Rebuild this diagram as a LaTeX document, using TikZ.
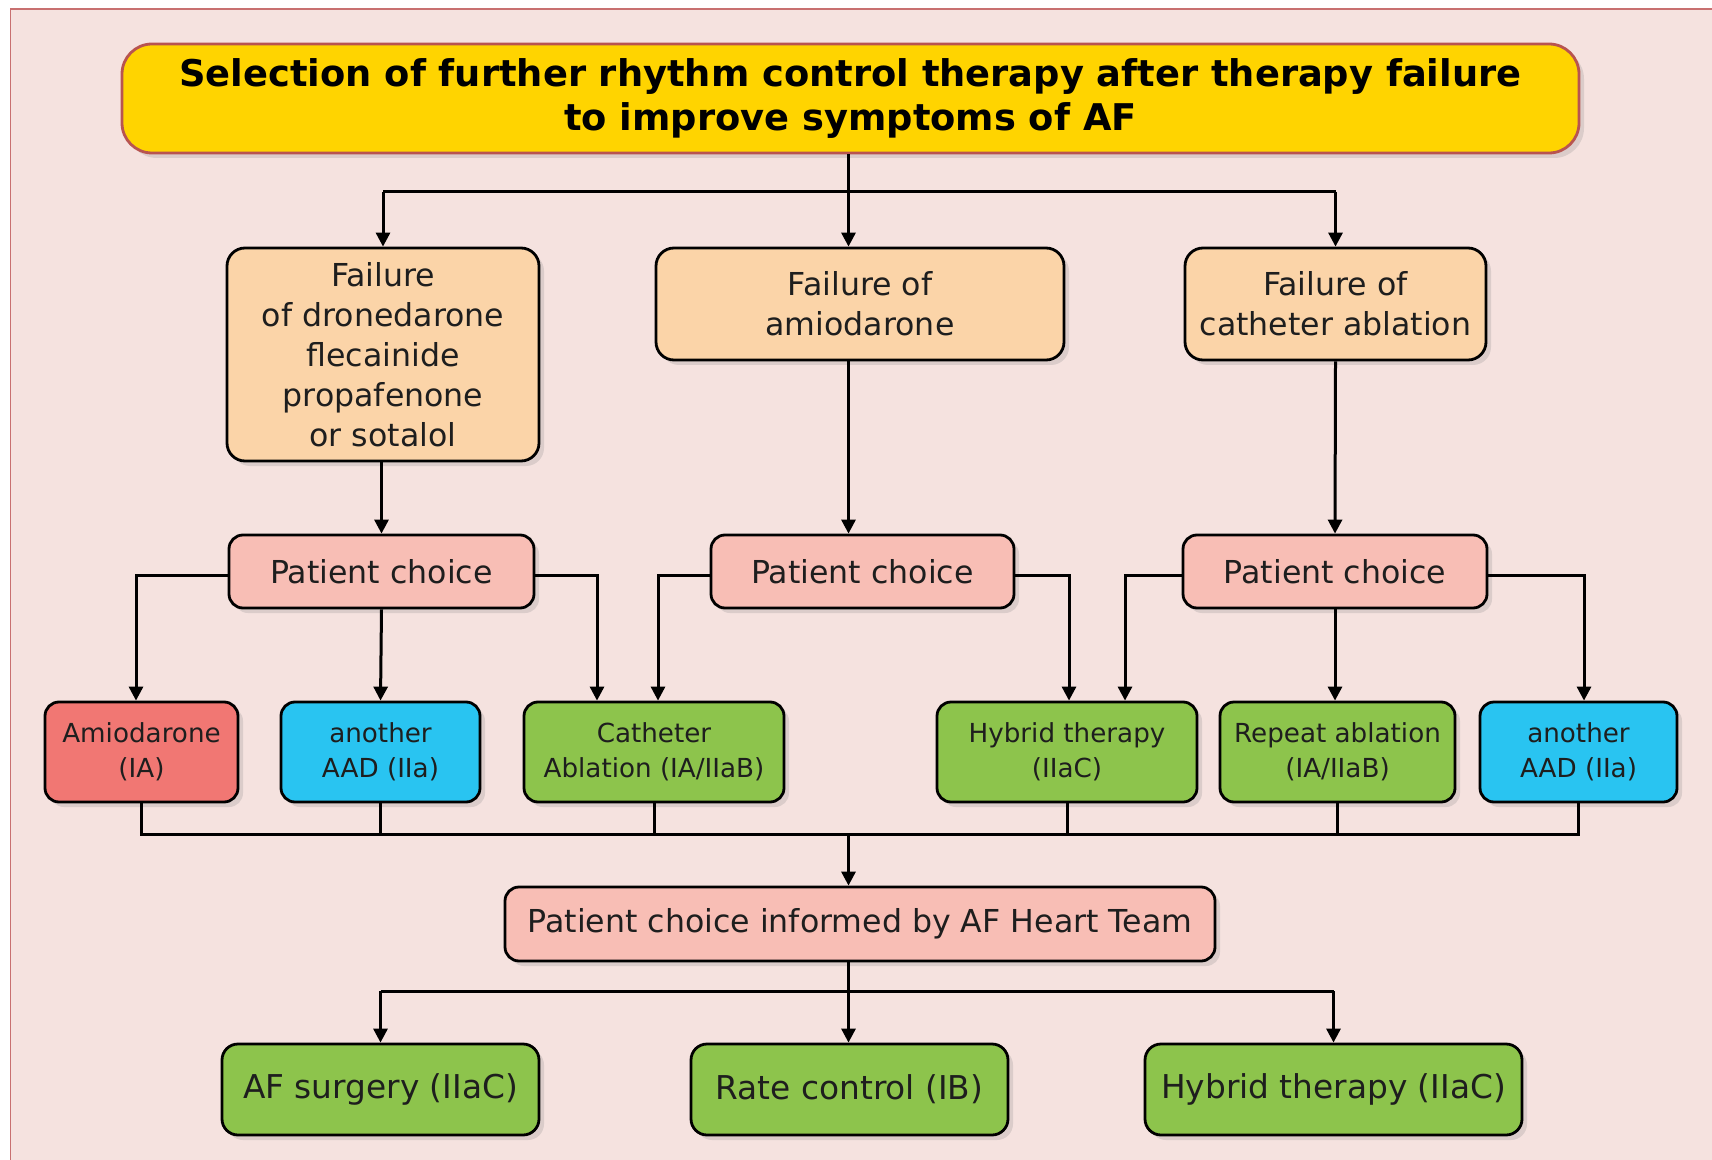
\documentclass[tikz,border=0pt]{standalone}
\usepackage{fontspec}
\setmainfont{DejaVu Sans}
\usetikzlibrary{arrows.meta,shadows}
\definecolor{bgpink}{HTML}{F5E2DF}
\definecolor{framecol}{HTML}{C87070}
\definecolor{titlefill}{HTML}{FFD400}
\definecolor{titledraw}{HTML}{B85450}
\definecolor{peach}{HTML}{FBD4A8}
\definecolor{salmon}{HTML}{F8BEB5}
\definecolor{redbox}{HTML}{F17773}
\definecolor{cyanbox}{HTML}{29C4F1}
\definecolor{greenbox}{HTML}{8DC44C}
\definecolor{txt}{HTML}{1E1E1E}
\begin{document}
\begin{tikzpicture}[x=0.5pt,y=-0.5pt,
  sz/.style 2 args={minimum width=#1*0.5pt, minimum height=#2*0.5pt},
  box/.style={draw=black, line width=1.4pt, rounded corners=9pt, align=center, inner sep=0pt, text=txt,
    drop shadow={opacity=0.22, shadow xshift=2.5pt, shadow yshift=-2.5pt}},
  titlebox/.style={box, draw=titledraw, fill=titlefill, rounded corners=15pt, text=black,
    font=\fontsize{18.4}{22}\selectfont\bfseries},
  failbox/.style={box, fill=peach, font=\fontsize{15.8}{20}\selectfont},
  choicebox/.style={box, fill=salmon, rounded corners=7pt, font=\fontsize{15.8}{20}\selectfont},
  optbox/.style={box, rounded corners=7pt, font=\fontsize{13.1}{17.5}\selectfont},
  endbox/.style={box, fill=greenbox, rounded corners=8pt, font=\fontsize{16.4}{20}\selectfont},
  conn/.style={draw=black, line width=1.5pt},
  arr/.style={conn, -{Triangle[length=7pt,width=7pt]}}
]
\useasboundingbox (0,0) rectangle (1712,1160);
\fill[white] (0,0) rectangle (1712,1160);
\fill[bgpink] (10.5,9) rectangle (1730,1180);
\draw[framecol, line width=0.8pt] (10.5,1180) -- (10.5,9) -- (1730,9);

% title
\node[titlebox, sz={1457}{109}] (title) at (850.5,98.5)
  {\raisebox{-1.5pt}{\parbox{700pt}{\centering Selection of further rhythm control therapy after therapy failure\\to improve symptoms of AF}}};

% failure boxes
\node[failbox, sz={312}{213}] (f1) at (383,354.5)
  {Failure\\of dronedarone\\flecainide\\propafenone\\or sotalol};
\node[failbox, sz={408}{112}] (f2) at (860,304) {Failure of\\amiodarone};
\node[failbox, sz={301}{112}] (f3) at (1335.5,304) {Failure of\\catheter ablation};

% patient choice
\node[choicebox, sz={305}{73}] (pc1) at (381.5,571.5) {Patient choice};
\node[choicebox, sz={303}{73}] (pc2) at (862.5,571.5) {Patient choice};
\node[choicebox, sz={304}{73}] (pc3) at (1335,571.5) {Patient choice};

% options
\node[optbox, fill=redbox, sz={193}{100}] (am) at (141.5,752) {Amiodarone\\(IA)};
\node[optbox, fill=cyanbox, sz={199}{100}] (aad1) at (380.5,752) {another\\AAD (IIa)};
\node[optbox, fill=greenbox, sz={260}{100}] (cath) at (654,752) {Catheter\\Ablation (IA/IIaB)};
\node[optbox, fill=greenbox, sz={260}{100}] (hyb) at (1067,752) {Hybrid therapy\\(IIaC)};
\node[optbox, fill=greenbox, sz={235}{100}] (rep) at (1337.5,752) {Repeat ablation\\(IA/IIaB)};
\node[optbox, fill=cyanbox, sz={197}{100}] (aad2) at (1578.5,752) {another\\AAD (IIa)};

% heart team
\node[choicebox, sz={710}{74}] (team) at (860,924) {Patient choice informed by AF Heart Team};

% end boxes
\node[endbox, sz={317}{91}] (afs) at (380.5,1089.5) {AF surgery (IIaC)};
\node[endbox, sz={317}{91}] (rate) at (849.5,1089.5) {Rate control (IB)};
\node[endbox, sz={377}{91}] (hyb2) at (1333.5,1089.5) {Hybrid therapy (IIaC)};

% helper coordinates
\coordinate (cx) at (848.5,0);
\coordinate (bus1) at (0,192);
\coordinate (bus2) at (0,834);
\coordinate (bus3) at (0,991);

% title to failure boxes
\draw[conn] (cx |- title.south) -- (cx |- bus1);
\draw[conn] (f1.north |- bus1) -- (f3.north |- bus1);
\draw[arr] (f1.north |- bus1) -- (f1.north);
\draw[arr] (cx |- bus1) -- (cx |- f2.north);
\draw[arr] (f3.north |- bus1) -- (f3.north);

% failure to patient choice
\draw[arr] (f1.south) -- (f1.south -| pc1.north) -- (pc1.north);
\draw[arr] (cx |- f2.south) -- (cx |- pc2.north);
\draw[arr] (f3.south) -- (pc3.north);

% patient choice 1
\draw[arr] ([yshift=-1.75pt]pc1.west) -| ([xshift=-2.75pt]am.north);
\draw[arr] (pc1.south) -- (aad1.north);
\draw[arr] ([yshift=-1.75pt]pc1.east) -| ([xshift=-28.5pt]cath.north);
% patient choice 2
\draw[arr] ([yshift=-1.75pt]pc2.west) -| ([xshift=2pt]cath.north);
\draw[arr] ([yshift=-1.75pt]pc2.east) -| ([xshift=1pt]hyb.north);
% patient choice 3
\draw[arr] ([yshift=-1.75pt]pc3.west) -| ([xshift=29pt]hyb.north);
\draw[arr] (pc3.south) -- (pc3.south |- rep.north);
\draw[arr] ([yshift=-1.75pt]pc3.east) -| ([xshift=2.75pt]aad2.north);

% collector
\draw[conn] (am.south) -- (am.south |- bus2) -- (aad2.south |- bus2) -- (aad2.south);
\draw[conn] (aad1.south) -- (aad1.south |- bus2);
\draw[conn] (cath.south) -- (cath.south |- bus2);
\draw[conn] (hyb.south) -- (hyb.south |- bus2);
\draw[conn] (rep.south) -- (rep.south |- bus2);
\draw[arr] (cx |- bus2) -- (cx |- team.north);

% team to end boxes
\draw[conn] (cx |- team.south) -- (cx |- bus3);
\draw[conn] (afs.north |- bus3) -- (hyb2.north |- bus3);
\draw[arr] (afs.north |- bus3) -- (afs.north);
\draw[arr] (cx |- bus3) -- (cx |- rate.north);
\draw[arr] (hyb2.north |- bus3) -- (hyb2.north);
\end{tikzpicture}
\end{document}
